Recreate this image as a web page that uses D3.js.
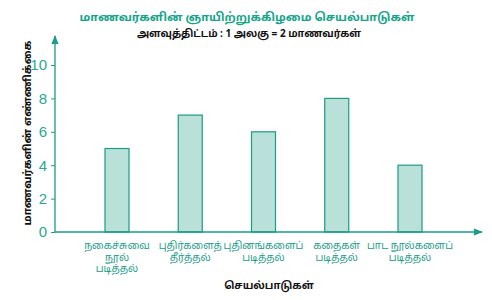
<!DOCTYPE html>
<html lang="ta">
<head>
<meta charset="UTF-8">
<title>மாணவர்களின் ஞாயிற்றுக்கிழமை செயல்பாடுகள்</title>
<script src="https://d3js.org/d3.v7.min.js"></script>
<style>
  body { margin: 0; background: #fff; }
  text { font-family: "Noto Sans Tamil", "Lohit Tamil", "Noto Sans", sans-serif; }
</style>
</head>
<body>
<svg width="492" height="300"></svg>
<script>
  // activities (each label split into lines)
  let activities = [
    ["நகைச்சுவை", "நூல்", "படித்தல்"],
    ["புதிர்களைத்", "தீர்த்தல்"],
    ["புதினங்களைப்", "படித்தல்"],
    ["கதைகள்", "படித்தல்"],
    ["பாட நூல்களைப்", "படித்தல்"]
  ]
  let counts = [5, 7, 6, 8, 4]
  let yTicks = [0, 2, 4, 6, 8, 10]

  let teal = "#1a9c86"
  let svg = d3.select("svg")

  let x = d3.scalePoint()
    .domain(d3.range(activities.length))
    .range([117, 410])
  let y = d3.scaleLinear()
    .domain([0, 10])
    .range([232, 65])
  let barW = 24

  // arrow head
  svg.append("defs").append("marker")
    .attr("id", "arr")
    .attr("viewBox", "0 0 10 10")
    .attr("refX", 9).attr("refY", 5)
    .attr("markerWidth", 7).attr("markerHeight", 7)
    .attr("orient", "auto")
    .append("path")
    .attr("d", "M0,1 L10,5 L0,9 Z")
    .attr("fill", teal)

  // bars
  svg.append("g").selectAll("rect")
    .data(counts)
    .enter()
    .append("rect")
    .attr("x", function (d, i) { return x(i) - barW / 2 })
    .attr("y", function (d) { return y(d) })
    .attr("width", barW)
    .attr("height", function (d) { return y(0) - y(d) })
    .attr("fill", "#b9e1d9")
    .attr("stroke", teal)
    .attr("stroke-width", 1.2)

  // axis lines with arrows
  svg.append("line")
    .attr("x1", 55).attr("y1", y(0))
    .attr("x2", 55).attr("y2", 36)
    .attr("stroke", teal).attr("stroke-width", 1.3)
    .attr("marker-end", "url(#arr)")
  svg.append("line")
    .attr("x1", 55).attr("y1", y(0))
    .attr("x2", 482).attr("y2", y(0))
    .attr("stroke", teal).attr("stroke-width", 1.3)
    .attr("marker-end", "url(#arr)")

  // y ticks
  let yAxis = svg.append("g")
    .attr("transform", "translate(55,0)")
    .call(d3.axisLeft(y).tickValues(yTicks).tickSize(4).tickPadding(4))
  yAxis.select(".domain").remove()
  yAxis.selectAll("line").attr("stroke", teal)
  yAxis.selectAll("text")
    .attr("fill", "#2aa892")
    .style("font-family", "Liberation Sans, Arial, sans-serif")
    .style("font-size", "15px")

  // x labels
  let xl = svg.append("g").selectAll("text")
    .data(activities)
    .enter()
    .append("text")
    .attr("x", function (d, i) { return x(i) })
    .attr("y", 249)
    .attr("text-anchor", "middle")
    .attr("fill", teal)
    .style("font-size", "10px")
  xl.selectAll("tspan")
    .data(function (d) { return d })
    .enter()
    .append("tspan")
    .attr("x", function () { return d3.select(this.parentNode).attr("x") })
    .attr("dy", function (d, i) { return i == 0 ? 0 : 11.5 })
    .text(function (d) { return d })

  // titles
  svg.append("text")
    .attr("x", 247).attr("y", 21)
    .attr("text-anchor", "middle")
    .attr("fill", "#17a589")
    .style("font-size", "11.5px")
    .style("font-weight", "bold")
    .text("மாணவர்களின் ஞாயிற்றுக்கிழமை செயல்பாடுகள்")
  svg.append("text")
    .attr("x", 249).attr("y", 37)
    .attr("text-anchor", "middle")
    .attr("fill", "#111")
    .style("font-size", "10px")
    .style("font-weight", "bold")
    .text("அளவுத்திட்டம் : 1 அலகு = 2 மாணவர்கள்")
  svg.append("text")
    .attr("x", 269).attr("y", 289)
    .attr("text-anchor", "middle")
    .attr("fill", "#111")
    .style("font-size", "10.3px")
    .style("font-weight", "bold")
    .text("செயல்பாடுகள்")
  svg.append("text")
    .attr("transform", "translate(31,133) rotate(-90)")
    .attr("text-anchor", "middle")
    .attr("fill", "#111")
    .style("font-size", "10.8px")
    .style("font-weight", "bold")
    .text("மாணவர்களின் எண்ணிக்கை")
</script>
</body>
</html>
